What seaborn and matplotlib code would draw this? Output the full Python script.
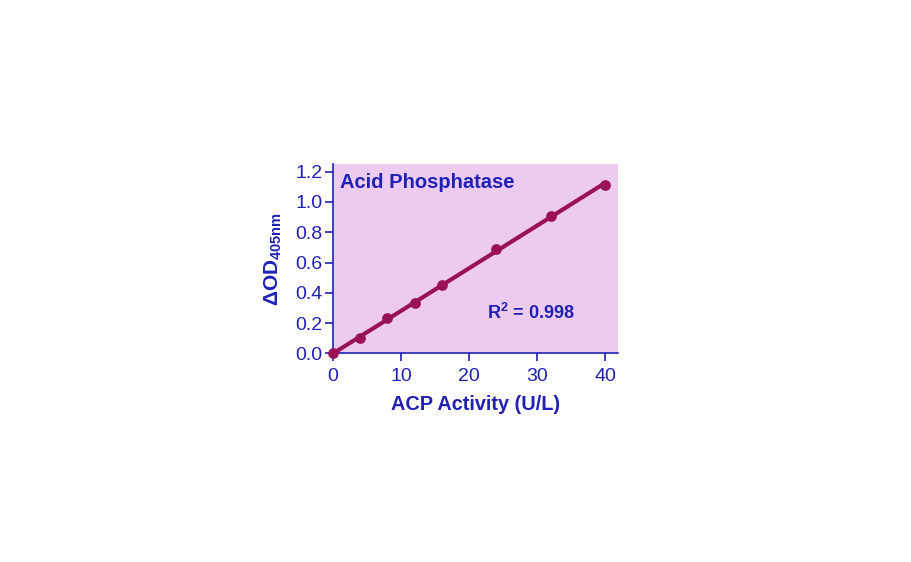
import matplotlib
matplotlib.use("Agg")
import matplotlib.pyplot as plt
import seaborn as sns
import pandas as pd

activity = [0, 4, 8, 12, 16, 24, 32, 40]
delta_od = [0.0, 0.10, 0.23, 0.33, 0.45, 0.69, 0.91, 1.11]
x_ticks = [0, 10, 20, 30, 40]
y_ticks = [0.0, 0.2, 0.4, 0.6, 0.8, 1.0, 1.2]

sns.set_style("ticks")
plt.rcParams['font.family'] = ['Liberation Sans', 'DejaVu Sans']
plt.rcParams['mathtext.fontset'] = 'custom'
plt.rcParams['mathtext.rm'] = 'Liberation Sans:bold'
plt.rcParams['mathtext.it'] = 'Liberation Sans:bold'
plt.rcParams['mathtext.bf'] = 'Liberation Sans:bold'

blue = '#2020b4'
line_c = '#9a1255'
bg = '#edcbf1'

df = pd.DataFrame({'x': activity, 'y': delta_od})

fig = plt.figure(figsize=(9.12, 5.62), dpi=100)
ax = fig.add_axes([333/912, 1 - 353.3/562, 285/912, 189.3/562])
ax.set_facecolor(bg)

sns.regplot(data=df, x='x', y='y', ax=ax, ci=None, color=line_c,
            scatter_kws=dict(s=60, clip_on=False, zorder=5, linewidths=0, alpha=1),
            line_kws=dict(lw=3, clip_on=False))

ax.set_xlim(0, 41.9)
ax.set_ylim(0, 1.251)
ax.set_xticks(x_ticks)
ax.set_yticks(y_ticks)
ax.set_xticklabels([str(t) for t in x_ticks])
ax.set_yticklabels([f"{t:.1f}" for t in y_ticks])

for side in ['top', 'right']:
    ax.spines[side].set_visible(False)
for side in ['left', 'bottom']:
    ax.spines[side].set_color(blue)
    ax.spines[side].set_linewidth(1.2)
ax.tick_params(colors=blue, labelcolor=blue, labelsize=14, length=6, width=1.2, direction='out')
ax.tick_params(axis='y', pad=1.5)
ax.tick_params(axis='x', pad=4.5)

ax.set_xlabel('ACP Activity (U/L)', fontsize=14.3, fontweight='bold', color=blue, labelpad=7)
ax.set_ylabel('ΔOD$_{405nm}$', fontsize=15, fontweight='bold', color=blue, labelpad=8)

ax.text(1.0, 1.13, 'Acid Phosphatase', fontsize=14.5, fontweight='bold', color=blue,
        va='center', ha='left')
ax.text(22.6, 0.268, 'R$^{2}$ = 0.998', fontsize=13, fontweight='bold', color=blue,
        va='center', ha='left')

fig.savefig('out.png', dpi=100, facecolor='white')
